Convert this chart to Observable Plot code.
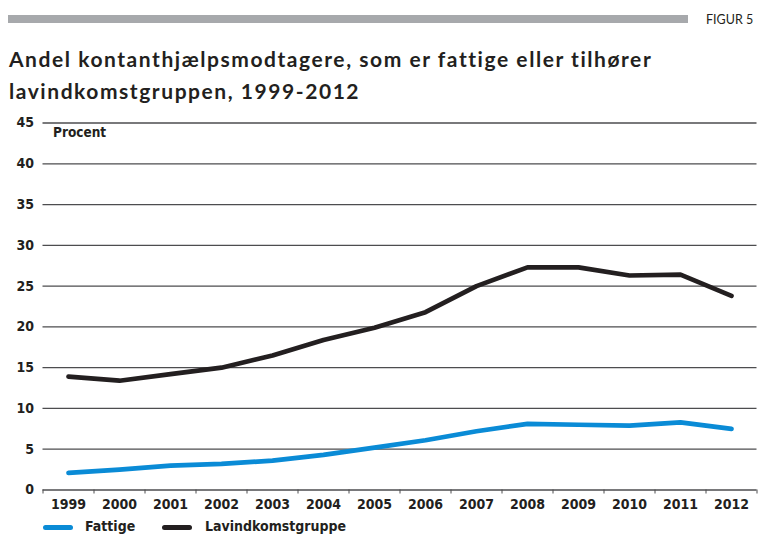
<!DOCTYPE html>
<html>
<head>
<meta charset="utf-8">
<script src="https://cdn.jsdelivr.net/npm/d3@7"></script>
<script src="https://cdn.jsdelivr.net/npm/@observablehq/plot@0.6"></script>
<style>
  html, body { margin: 0; padding: 0; background: #fff; }
  body { width: 763px; height: 537px; position: relative; overflow: hidden; color: #231f20; }
  #bar { position: absolute; left: 8px; top: 15px; width: 680px; height: 8px; background: #a7a9ac; }
  #figur { position: absolute; left: 706px; top: 12px; font: 12.5px "Lato", sans-serif; color: #231f20; }
  #title { position: absolute; left: 9px; top: 43px; font: bold 21px "Lato", sans-serif; line-height: 32px; letter-spacing: 1.55px; color: #231f20; white-space: nowrap; }
  #chart { position: absolute; left: 0; top: 110px; }
  #legend { position: absolute; left: 0; top: 517px; width: 763px; height: 20px; font: bold 14px "DejaVu Sans Condensed", sans-serif; color: #231f20; }
  .sw { position: absolute; top: 8px; width: 30px; height: 5px; border-radius: 3px; }
  .lt { position: absolute; top: 1px; }
</style>
</head>
<body>
<div id="bar"></div>
<div id="figur">FIGUR 5</div>
<div id="title">Andel kontanthjælpsmodtagere, som er fattige eller tilhører<br>lavindkomstgruppen, 1999-2012</div>
<div id="chart"></div>
<div id="legend">
  <div class="sw" style="left:43px;background:#0a8bd6"></div><div class="lt" style="left:85px">Fattige</div>
  <div class="sw" style="left:162px;background:#231f20"></div><div class="lt" style="left:205px">Lavindkomstgruppe</div>
</div>
<script>
const years = [1999,2000,2001,2002,2003,2004,2005,2006,2007,2008,2009,2010,2011,2012];
const fattige = [2.1,2.5,3.0,3.2,3.6,4.3,5.2,6.1,7.2,8.1,8.0,7.9,8.3,7.5];
const lavindkomst = [13.9,13.4,14.2,15.0,16.5,18.4,19.9,21.8,25.0,27.3,27.3,26.3,26.4,23.8];
const yTicks = [0,5,10,15,20,25,30,35,40,45];
const seriesNames = ["Fattige","Lavindkomstgruppe"];
const seriesColors = ["#0a8bd6","#231f20"];

const data = [];
years.forEach((yr, i) => {
  data.push({year: yr, value: fattige[i], series: seriesNames[0]});
  data.push({year: yr, value: lavindkomst[i], series: seriesNames[1]});
});
const boundaries = years.map(y => y - 0.5).concat([years[years.length-1] + 0.5]);
const fontFam = '"DejaVu Sans Condensed", sans-serif';

const chart = Plot.plot({
  width: 763,
  height: 405,
  marginTop: 12.5,
  marginBottom: 25.5,
  marginLeft: 42.5,
  marginRight: 6.5,
  style: {fontFamily: fontFam, fontSize: "14px", fontWeight: "bold", color: "#231f20", background: "white"},
  x: {domain: [years[0] - 0.5, years[years.length-1] + 0.5], axis: null, label: null},
  y: {domain: [0, 45], axis: null, label: null},
  color: {domain: seriesNames, range: seriesColors},
  marks: [
    Plot.ruleY(yTicks.filter(d => d > 0), {stroke: "#4d4d4f", strokeWidth: 1.3}),
    Plot.ruleY([0], {stroke: "#4d4d4f", strokeWidth: 1.3}),
    Plot.axisX({ticks: boundaries, tickSize: 4, tickFormat: () => "", stroke: "#4d4d4f", label: null}),
    Plot.axisX({ticks: years, tickSize: 0, tickPadding: 9, tickFormat: d => String(d), fill: "#231f20", fontSize: 14, label: null}),
    Plot.axisY({ticks: yTicks, tickSize: 0, tickPadding: 9, fill: "#231f20", fontSize: 14, label: null}),
    Plot.text(["Procent"], {frameAnchor: "top-left", dx: 10, dy: 4, text: d => d, fontSize: 13.5, fontWeight: "bold", fill: "#231f20"}),
    Plot.line(data, {x: "year", y: "value", z: "series", stroke: "series", strokeWidth: 4.7, strokeLinecap: "round", strokeLinejoin: "round"})
  ]
});
document.getElementById("chart").appendChild(chart);
</script>
</body>
</html>
